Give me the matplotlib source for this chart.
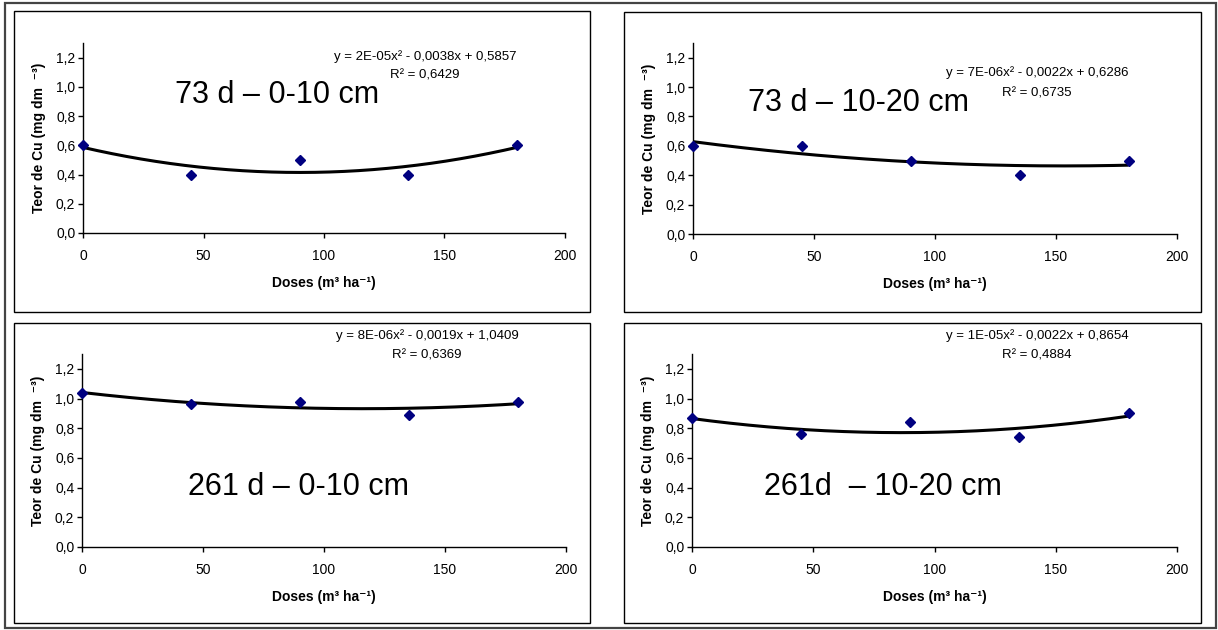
import numpy as np
import matplotlib
matplotlib.use("Agg")
import matplotlib.pyplot as plt
from matplotlib.patches import Rectangle

plt.rcParams['font.family'] = ['Liberation Sans', 'DejaVu Sans']

# Doses of residue applied (m3/ha) and measured Cu contents (mg/dm3)
doses = [0, 45, 90, 135, 180]
cu_73d_0_10 = [0.60, 0.40, 0.50, 0.40, 0.60]
cu_73d_10_20 = [0.60, 0.60, 0.50, 0.40, 0.50]
cu_261d_0_10 = [1.04, 0.96, 0.98, 0.89, 0.98]
cu_261d_10_20 = [0.87, 0.76, 0.84, 0.74, 0.90]

panel_titles = ["73 d – 0-10 cm", "73 d – 10-20 cm",
                "261 d – 0-10 cm", "261d  – 10-20 cm"]
equations = ["y = 2E-05x² - 0,0038x + 0,5857",
             "y = 7E-06x² - 0,0022x + 0,6286",
             "y = 8E-06x² - 0,0019x + 1,0409",
             "y = 1E-05x² - 0,0022x + 0,8654"]
r2_labels = ["R² = 0,6429", "R² = 0,6735", "R² = 0,6369", "R² = 0,4884"]

x_ticks = [0, 50, 100, 150, 200]
y_ticks = [0.0, 0.2, 0.4, 0.6, 0.8, 1.0, 1.2]
y_tick_labels = ["0,0", "0,2", "0,4", "0,6", "0,8", "1,0", "1,2"]

series = [cu_73d_0_10, cu_73d_10_20, cu_261d_0_10, cu_261d_10_20]

W, H = 1218, 630
fig = plt.figure(figsize=(W / 100, H / 100), dpi=100)
fig.patch.set_facecolor("white")


def fx(px):
    return px / W


def fy(py):
    return 1 - py / H


def frame(x0, y0, x1, y1, lw=1.0, color="black"):
    fig.add_artist(Rectangle((fx(x0), fy(y1)), fx(x1) - fx(x0), fy(y0) - fy(y1),
                             transform=fig.transFigure, fill=False,
                             edgecolor=color, linewidth=lw))


# outer border and the four chart boxes
frame(5, 3, 1216, 628, lw=1.6, color="#444444")
boxes = [(14, 11, 590, 312), (624, 12, 1201, 312),
         (14, 323, 590, 623), (624, 323, 1201, 623)]
for b in boxes:
    frame(*b, lw=1.0)

# plot areas: (left, top, right, bottom) in pixels
areas = [(83, 43, 565, 233), (693, 43, 1177, 234),
         (82, 354, 566, 547), (692, 354, 1177, 547)]
eq_pos = [(425, 57, 76), (1037, 73, 93), (427, 336, 356), (1037, 336, 356)]
title_pos = [(277, 95), (858, 103), (298, 487), (883, 487)]

for i, (l, t, r, b) in enumerate(areas):
    ax = fig.add_axes([fx(l), fy(b), fx(r) - fx(l), fy(t) - fy(b)])
    ax.set_facecolor("none")
    y = series[i]
    coef = np.polyfit(doses, y, 2)
    xs = np.linspace(min(doses), max(doses), 300)
    ax.plot(xs, np.polyval(coef, xs), color="black", lw=2.2, zorder=2,
            solid_capstyle="butt")
    ax.plot(doses, y, linestyle="none", marker="D", ms=5.5,
            color="#000080", zorder=3, clip_on=False)

    ax.set_xlim(0, 200)
    ax.set_ylim(0, 1.3)
    ax.set_xticks(x_ticks)
    ax.set_xticklabels([str(v) for v in x_ticks])
    ax.set_yticks(y_ticks)
    ax.set_yticklabels(y_tick_labels)
    for s in ("top", "right"):
        ax.spines[s].set_visible(False)
    for s in ("left", "bottom"):
        ax.spines[s].set_linewidth(1.0)
    ax.tick_params(axis="both", direction="out", length=3.5, width=1.0,
                   labelsize=10)
    ax.tick_params(axis="x", pad=8)
    ax.tick_params(axis="y", pad=2)

    ax.set_xlabel("Doses (m³ ha⁻¹)", fontsize=10, fontweight="bold")
    ax.xaxis.set_label_coords(0.5, (b - (b + 50)) / (b - t))
    ax.xaxis.label.set_va("center")
    ax.set_ylabel("Teor de Cu (mg dm  ⁻³)", fontsize=10, fontweight="bold")
    ax.yaxis.set_label_coords(-44 / (r - l), 0.5)
    ax.yaxis.label.set_va("center")

    ex, ey, ry = eq_pos[i]
    fig.text(fx(ex), fy(ey), equations[i], ha="center", va="center",
             fontsize=9.5)
    fig.text(fx(ex), fy(ry), r2_labels[i], ha="center", va="center",
             fontsize=9.5)
    tx, ty = title_pos[i]
    fig.text(fx(tx), fy(ty), panel_titles[i], ha="center", va="center",
             fontsize=22)

fig.savefig("out.png", dpi=100, facecolor="white")
